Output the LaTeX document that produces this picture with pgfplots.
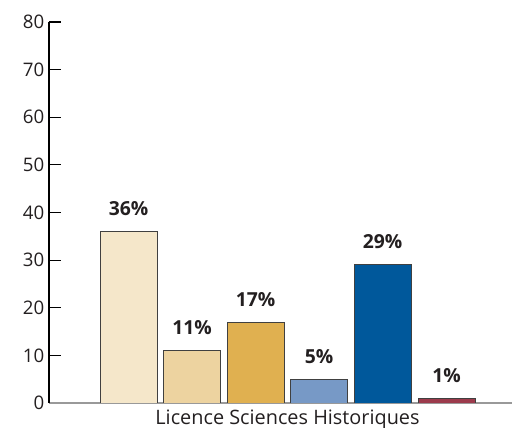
\documentclass[border=0pt]{standalone}
\usepackage{fontspec}
\setmainfont{Open Sans}
\usepackage{pgfplots}
\pgfplotsset{compat=1.18}

\definecolor{txt}{HTML}{231F20}
\definecolor{c1}{HTML}{F5E7CA}
\definecolor{c2}{HTML}{EDD3A0}
\definecolor{c3}{HTML}{E0B050}
\definecolor{c4}{HTML}{7799C6}
\definecolor{c5}{HTML}{00589B}
\definecolor{c6}{HTML}{9C3B4C}

\begin{document}
\begin{tikzpicture}[text=txt]
  % 1 px of the reference = 0.75pt
  \useasboundingbox (-36.75pt,-18.75pt) rectangle (347.25pt,302.25pt);
  \begin{axis}[
    scale only axis,
    width=347.25pt,
    height=285.75pt,
    /pgf/number format/assume math mode=true,
    xmin=49, xmax=512,
    ymin=0, ymax=80,
    ytick={0,10,...,80},
    xtick={287.5},
    xticklabels={Licence Sciences Historiques},
    x tick style={draw=none},
    xticklabel style={anchor=base, yshift=-7.2pt, font=\fontsize{14.9}{16}\selectfont},
    yticklabel style={font=\fontsize{14}{16}\selectfont},
    y tick style={black, line width=0.8pt},
    major tick length=9pt,
    tick align=inside,
    axis x line*=bottom,
    axis y line*=left,
    x axis line style={draw=gray!80, line width=0.8pt},
    y axis line style={black, line width=0.8pt},
    ybar,
    bar shift=0pt,
    bar width=42.75pt,
    nodes near coords={\textbf{\pgfmathprintnumber\pgfplotspointmeta\%}},
    nodes near coords style={anchor=base, yshift=12pt, text=txt, font=\fontsize{14.5}{16}\selectfont},
    every axis plot/.append style={draw=black!75, line width=0.6pt},
  ]
    \addplot[fill=c1] coordinates {(128.5,36)};
    \addplot[fill=c2] coordinates {(192,11)};
    \addplot[fill=c3] coordinates {(255.5,17)};
    \addplot[fill=c4] coordinates {(319,5)};
    \addplot[fill=c5] coordinates {(382.5,29)};
    \addplot[fill=c6] coordinates {(446.5,1)};
  \end{axis}
\end{tikzpicture}
\end{document}
